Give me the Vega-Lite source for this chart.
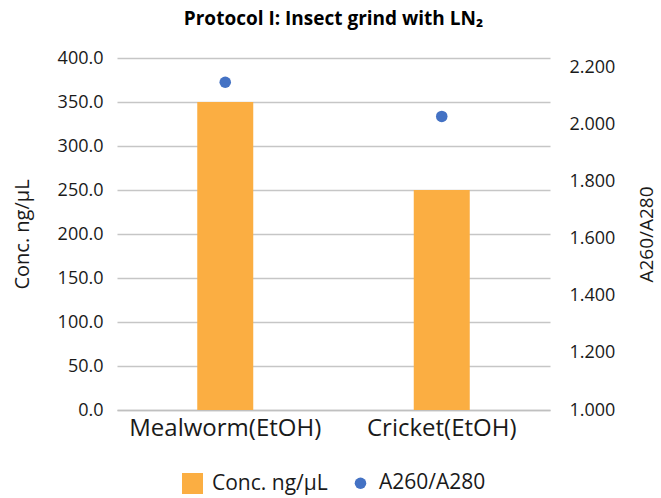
{
  "$schema": "https://vega.github.io/schema/vega-lite/v6.json",
  "width": 433,
  "height": 352,
  "autosize": {"type": "none"},
  "padding": {"left": 117, "top": 58, "right": 111, "bottom": 88},
  "background": "white",
  "config": {
    "font": "Open Sans",
    "view": {"stroke": null},
    "axis": {"labelFont": "Open Sans", "titleFont": "Open Sans", "labelColor": "#1a1a1a", "titleColor": "#1a1a1a", "titleFontWeight": "normal"},
    "legend": {"labelFont": "Open Sans", "layout": {"bottom": {"anchor": "middle"}}}
  },
  "title": {
    "text": "Protocol I: Insect grind with LN₂",
    "fontSize": 19,
    "fontWeight": "bold",
    "font": "Open Sans",
    "color": "#000000",
    "anchor": "middle",
    "frame": "group",
    "offset": 20
  },
  "data": {
    "values": [
      {"sample": "Mealworm(EtOH)", "conc": 350, "ratio": 2.15},
      {"sample": "Cricket(EtOH)", "conc": 250, "ratio": 2.03}
    ]
  },
  "encoding": {
    "x": {
      "field": "sample",
      "type": "nominal",
      "sort": null,
      "scale": {"paddingOuter": 0, "paddingInner": 0},
      "axis": {
        "title": null,
        "labelAngle": 0,
        "labelFontSize": 24,
        "labelLimit": 0,
        "labelPadding": 6,
        "ticks": false,
        "domain": true,
        "domainColor": "#c0c0c0",
        "domainWidth": 1.5
      }
    }
  },
  "layer": [
    {
      "transform": [{"calculate": "'Conc. ng/µL'", "as": "series"}],
      "mark": {"type": "bar", "size": 56},
      "encoding": {
        "y": {
          "field": "conc",
          "type": "quantitative",
          "scale": {"domain": [0, 400], "nice": false},
          "axis": {
            "title": "Conc. ng/µL",
            "titleFontSize": 20,
            "titlePadding": 25,
            "labelFontSize": 18,
            "labelPadding": 14,
            "format": ".1f",
            "values": [0, 50, 100, 150, 200, 250, 300, 350, 400],
            "ticks": false,
            "domain": false,
            "grid": true,
            "gridColor": "#c6c6c6",
            "gridWidth": 1.5
          }
        },
        "color": {
          "field": "series",
          "type": "nominal",
          "scale": {"domain": ["Conc. ng/µL", "A260/A280"], "range": ["#FBAE42", "#4472C4"]},
          "legend": {
            "title": null,
            "orient": "bottom",
            "direction": "horizontal",
            "labelFontSize": 21,
            "labelColor": "#1a1a1a",
            "symbolOpacity": 1,
            "columnPadding": 22,
            "labelOffset": 8,
            "offset": 32
          }
        }
      }
    },
    {
      "transform": [{"calculate": "'A260/A280'", "as": "series"}],
      "mark": {"type": "point", "filled": true, "opacity": 1},
      "encoding": {
        "y": {
          "field": "ratio",
          "type": "quantitative",
          "scale": {"domain": [1, 2.235], "nice": false, "zero": false},
          "axis": {
            "orient": "right",
            "title": "A260/A280",
            "titleAngle": 270,
            "titleFontSize": 19,
            "titlePadding": 42,
            "labelFontSize": 18,
            "labelPadding": 19,
            "format": ".3f",
            "values": [1, 1.2, 1.4, 1.6, 1.8, 2.0, 2.2],
            "ticks": false,
            "domain": false,
            "grid": false
          }
        },
        "color": {"field": "series", "type": "nominal"},
        "shape": {
          "field": "series",
          "type": "nominal",
          "scale": {"domain": ["Conc. ng/µL", "A260/A280"], "range": ["square", "circle"]}
        },
        "size": {
          "field": "series",
          "type": "nominal",
          "scale": {"domain": ["Conc. ng/µL", "A260/A280"], "range": [441, 133]}
        }
      }
    }
  ],
  "resolve": {"scale": {"y": "independent"}}
}
